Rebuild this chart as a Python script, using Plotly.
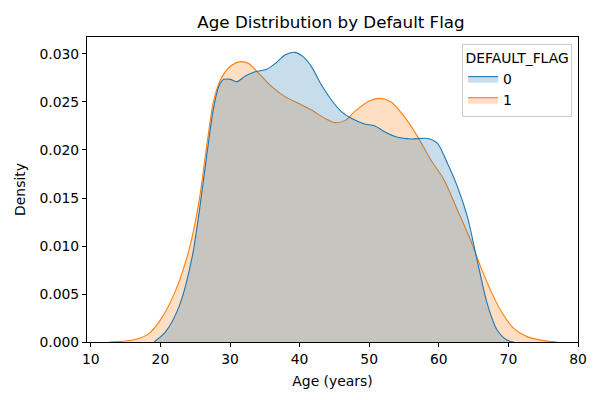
import plotly.graph_objects as go

# Flag 0 (blue) density curve
age_0 = [19.1, 20.76, 22.67, 24.57, 26.0, 26.95, 27.67, 28.38, 29.1, 30.05, 31.0, 32.19, 33.62,
         35.29, 36.48, 37.9, 39.33, 40.5, 41.7, 43.14, 44.57, 46.0, 47.43, 49.33, 50.76, 52.19,
         54.1, 56.0, 58.38, 59.8, 61.24, 62.67, 64.1, 65.5, 66.95, 68.38, 69.8, 70.76]
dens_0 = [0.0, 0.00108, 0.00368, 0.00889, 0.01583, 0.02104, 0.02451, 0.0266, 0.02736, 0.02736,
          0.02712, 0.0277, 0.02816, 0.0284, 0.0290, 0.0299, 0.03017, 0.02972, 0.02868, 0.02677,
          0.02521, 0.0240, 0.0233, 0.02271, 0.02253, 0.02191, 0.02132, 0.02115, 0.0212, 0.0207,
          0.01861, 0.01618, 0.01306, 0.00854, 0.00403, 0.00125, 0.0002, 0.0]

# Flag 1 (orange) density curve
age_1 = [12.67, 16.0, 18.4, 20.3, 22.2, 24.1, 25.5, 26.7, 27.67, 28.86, 30.3, 31.5, 32.67, 34.1,
         36.0, 37.9, 39.8, 41.7, 43.6, 45.05, 46.5, 47.9, 49.8, 51.5, 53.1, 55.05, 56.95, 58.86,
         60.76, 62.67, 64.57, 66.0, 67.43, 68.86, 70.76, 72.67, 75.05, 76.95]
dens_1 = [0.0, 0.0002, 0.0009, 0.00264, 0.0054, 0.00958, 0.01444, 0.0207, 0.0252, 0.02764,
          0.02885, 0.0292, 0.0290, 0.0280, 0.0266, 0.02556, 0.02486, 0.02417, 0.0233, 0.02285,
          0.02306, 0.0240, 0.02503, 0.02538, 0.02503, 0.02347, 0.02139, 0.01896, 0.01688,
          0.01375, 0.01063, 0.00785, 0.00542, 0.00333, 0.00142, 0.00056, 0.00014, 0.0]

x_ticks = [10, 20, 30, 40, 50, 60, 70, 80]
y_ticks = [0.0, 0.005, 0.010, 0.015, 0.020, 0.025, 0.030]

fig = go.Figure()
# orange drawn first (behind), blue on top, as seaborn layers them
fig.add_trace(go.Scatter(x=age_1, y=dens_1, name="1", mode="lines", legendrank=2,
                         line=dict(color="#ff7f0e", width=1.1, shape="spline", smoothing=0.8),
                         fill="tozeroy", fillcolor="rgba(255,127,14,0.25)"))
fig.add_trace(go.Scatter(x=age_0, y=dens_0, name="0", mode="lines", legendrank=1,
                         line=dict(color="#1f77b4", width=1.1, shape="spline", smoothing=0.8),
                         fill="tozeroy", fillcolor="rgba(31,119,180,0.25)"))

axis_common = dict(showline=True, linecolor="black", linewidth=1, mirror=True,
                   ticks="outside", ticklen=4, tickcolor="black", showgrid=False,
                   zeroline=False, tickfont=dict(size=13.9, color="black"))

fig.update_layout(
    width=600, height=400,
    margin=dict(l=76, r=30, t=29, b=66),
    paper_bgcolor="white", plot_bgcolor="white",
    font=dict(family="DejaVu Sans", size=13.9, color="black"),
    title=dict(text="Age Distribution by Default Flag", x=323 / 600, xanchor="center",
               y=1 - 14 / 400, yanchor="middle", font=dict(size=16.7)),
    xaxis=dict(range=[9.45, 80.0], tickvals=x_ticks,
               title=dict(text="Age (years)", standoff=10, font=dict(size=13.9)), **axis_common),
    yaxis=dict(range=[0, 0.03177], tickvals=y_ticks, tickformat=".3f",
               title=dict(text="Density", standoff=10, font=dict(size=13.9)), **axis_common),
    legend=dict(x=0.988, y=0.977, xanchor="right", yanchor="top",
                bordercolor="#cccccc", borderwidth=1, bgcolor="rgba(255,255,255,0.8)",
                title=dict(text="DEFAULT_FLAG", side="top center", font=dict(size=13.9)),
                font=dict(size=13.9), traceorder="normal"),
)

fig.write_html("out.html")
